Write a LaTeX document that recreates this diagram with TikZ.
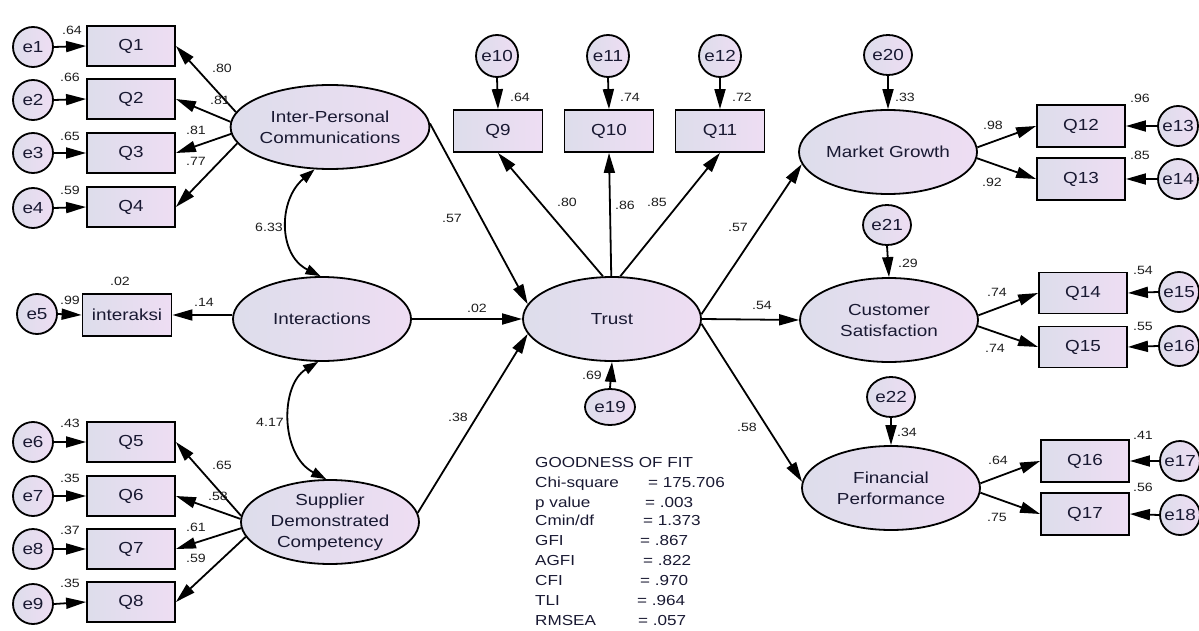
\documentclass[tikz,border=0pt]{standalone}
\usepackage{fontspec}
\setmainfont{Liberation Sans}
\newfontfamily\dfont[FakeStretch=1.18]{Liberation Sans}
\usetikzlibrary{arrows.meta,shapes.geometric}
\definecolor{fillL}{RGB}{221,221,235}
\definecolor{fillR}{RGB}{238,221,243}
\definecolor{txt}{RGB}{25,25,50}
\definecolor{lbl}{RGB}{30,30,30}
\tikzset{
  base/.style={draw=black, line width=1.8pt, left color=fillL, right color=fillR, text=txt, font=\dfont\fontsize{16}{21}\selectfont, inner sep=0pt},
  obs/.style={base, rectangle, minimum width=88pt, minimum height=40pt},
  lat/.style={base, ellipse, minimum width=178pt, minimum height=84pt, align=center},
  err/.style={base, circle, minimum size=40pt},
  errw/.style={base, ellipse, minimum width=48pt, minimum height=40pt},
  arr/.style={line width=1.8pt, -{Triangle[length=20pt,width=11pt]}},
  cov/.style={line width=1.8pt, {Triangle[length=15pt,width=10pt]}-{Triangle[length=15pt,width=10pt]}},
  lab/.style={font=\dfont\fontsize{12}{14}\selectfont, text=lbl, inner sep=0pt, text height=8.6pt, text depth=0pt},
  gof/.style={font=\dfont\fontsize{14.5}{17}\selectfont, text=txt, inner sep=0pt, text height=10.4pt, text depth=0pt, anchor=west},
}
\begin{document}
\begin{tikzpicture}[x=1pt,y=-1pt]
\useasboundingbox (0,0) rectangle (1199,631);
% ---------- left block ----------
\node[err] (e1) at (33,47) {e1};
\node[err] (e2) at (33,100) {e2};
\node[err] (e3) at (33,153) {e3};
\node[err] (e4) at (33,208) {e4};
\node[obs] (q1) at (131,46) {Q1};
\node[obs] (q2) at (131,99) {Q2};
\node[obs] (q3) at (131,153) {Q3};
\node[obs] (q4) at (131,207) {Q4};
\node[err] (e5) at (37,314) {e5};
\node[obs, minimum width=89pt, minimum height=42pt] (qi) at (127,315) {interaksi};
\node[err] (e6) at (33,442) {e6};
\node[err] (e7) at (33,496) {e7};
\node[err] (e8) at (33,549) {e8};
\node[err] (e9) at (33,604) {e9};
\node[obs] (q5) at (131,442) {Q5};
\node[obs] (q6) at (131,496) {Q6};
\node[obs] (q7) at (131,549) {Q7};
\node[obs] (q8) at (131,602) {Q8};
\node[lat] (ipc) at (330,127) {Inter-Personal\\Communications};
\node[lat] (inter) at (322,319) {Interactions};
\node[lat] (sdc) at (330,522) {Supplier\\Demonstrated\\Competency};
% ---------- middle ----------
\node[err, minimum size=42pt] (e10) at (497,56) {e10};
\node[err, minimum size=42pt] (e11) at (608,56) {e11};
\node[err, minimum size=42pt] (e12) at (720,56) {e12};
\node[obs, minimum width=89pt, minimum height=42pt] (q9) at (498,131) {Q9};
\node[obs, minimum width=89pt, minimum height=42pt] (q10) at (609,131) {Q10};
\node[obs, minimum width=89pt, minimum height=42pt] (q11) at (720,131) {Q11};
\node[lat] (trust) at (612,319) {Trust};
\node[errw, minimum width=50pt, minimum height=36pt] (e19) at (610,407) {e19};
% ---------- right ----------
\node[lat] (mg) at (888,152) {Market Growth};
\node[errw] (e20) at (888,55) {e20};
\node[obs, minimum height=42pt] (q12) at (1081,126) {Q12};
\node[obs, minimum height=42pt] (q13) at (1081,179) {Q13};
\node[err] (e13) at (1178,126) {e13};
\node[err] (e14) at (1178,179) {e14};
\node[lat] (cs) at (889,320) {Customer\\Satisfaction};
\node[errw] (e21) at (887,225) {e21};
\node[obs, minimum height=41pt] (q14) at (1083,293) {Q14};
\node[obs, minimum height=41pt] (q15) at (1083,347) {Q15};
\node[err] (e15) at (1179,292) {e15};
\node[err] (e16) at (1179,346) {e16};
\node[lat] (fp) at (891,488) {Financial\\Performance};
\node[errw] (e22) at (891,397) {e22};
\node[obs, minimum height=42pt] (q16) at (1085,461) {Q16};
\node[obs, minimum height=42pt] (q17) at (1085,514) {Q17};
\node[err] (e17) at (1180,461) {e17};
\node[err] (e18) at (1180,515) {e18};
% ---------- arrows: errors ----------
\draw[arr] (e1.east) -- (q1.west);
\draw[arr] (e2.east) -- (q2.west);
\draw[arr] (e3.east) -- (q3.west);
\draw[arr] (e4.east) -- (q4.west);
\draw[arr] (e5.east) -- (qi.west);
\draw[arr] (e6.east) -- (q5.west);
\draw[arr] (e7.east) -- (q6.west);
\draw[arr] (e8.east) -- (q7.west);
\draw[arr] (e9.east) -- (q8.west);
\draw[arr] (e10.south) -- (q9.north);
\draw[arr] (e11.south) -- (q10.north);
\draw[arr] (e12.south) -- (q11.north);
\draw[arr] (e19.north) -- (trust.south);
\draw[arr] (e20.south) -- (mg.north);
\draw[arr] (e21.south) -- (cs.north);
\draw[arr] (e22.south) -- (fp.north);
\draw[arr] (e13.west) -- (q12.east);
\draw[arr] (e14.west) -- (q13.east);
\draw[arr] (e15.west) -- (q14.east);
\draw[arr] (e16.west) -- (q15.east);
\draw[arr] (e17.west) -- (q16.east);
\draw[arr] (e18.west) -- (q17.east);
% ---------- loadings ----------
\draw[arr] (ipc.171) -- (q1.east);
\draw[arr] (ipc.177) -- (q2.east);
\draw[arr] (ipc.184) -- (q3.east);
\draw[arr] (ipc.190) -- (q4.east);
\draw[arr] (inter.west |- qi.east) -- (qi.east);
\draw[arr] (sdc.176) -- (q5.east);
\draw[arr] (sdc.178) -- (q6.east);
\draw[arr] (sdc.184) -- (q7.east);
\draw[arr] (sdc.190) -- (q8.east);
\draw[arr] (trust.102) -- (q9.south);
\draw[arr] (trust.91) -- (q10.south);
\draw[arr] (trust.79) -- (q11.south);
\draw[arr] (mg.3) -- (q12.west);
\draw[arr] (mg.356) -- (q13.west);
\draw[arr] (cs.3) -- (q14.west);
\draw[arr] (cs.356) -- (q15.west);
\draw[arr] (fp.3) -- (q16.west);
\draw[arr] (fp.357) -- (q17.west);
% ---------- structural ----------
\draw[arr] (ipc.2) -- (trust.170);
\draw[arr] (inter.east) -- (trust.west);
\draw[arr] (sdc.6) -- (trust.190);
\draw[arr] (trust.3) -- (mg.188);
\draw[arr] (trust.east) -- (cs.west);
\draw[arr] (trust.357) -- (fp.176);
% ---------- covariances ----------
\draw[cov] (ipc.250) .. controls (278,200) and (278,255) .. (inter.92);
\draw[cov] (inter.265) .. controls (280,385) and (280,455) .. (sdc.95);
% ---------- labels ----------
\foreach \t/\x/\y in {.64/72/30, .66/70/77, .65/70/136, .59/70/190,
  .80/222/68, .81/220/100, .81/196/130, .77/196/161,
  6.33/269/227, .02/120/281, .99/70/300, .14/204/302, 4.17/270/422,
  .43/70/423, .35/70/478, .37/70/530, .35/70/583,
  .65/222/465, .58/218/496, .61/196/527, .59/196/558,
  .57/452/218, .64/520/97, .74/630/97, .72/742/97,
  .80/567/202, .86/625/205, .85/657/202, .57/738/227,
  .02/477/308, .54/762/305, .69/592/375, .38/458/417, .58/747/427,
  .33/905/97, .98/993/125, .92/992/182, .96/1140/98, .85/1140/155,
  .29/908/263, .74/997/292, .74/995/348, .54/1143/270, .55/1143/326,
  .34/907/432, .64/998/460, .75/997/517, .41/1143/435, .56/1143/487}
  \node[lab] at (\x,\y) {\t};
% ---------- goodness of fit ----------
\node[gof] (g0) at (535,462) {GOODNESS OF FIT};
\node[gof] (g1) at (535,482) {Chi-square};
\node[gof] (g2) at (535,502) {p value};
\node[gof] (g3) at (535,520) {Cmin/df};
\node[gof] (g4) at (535,540) {GFI};
\node[gof] (g5) at (535,560) {AGFI};
\node[gof] (g6) at (535,580) {CFI};
\node[gof] (g7) at (535,600) {TLI};
\node[gof] (g8) at (535,620) {RMSEA};
\node[gof] (v1) at (648,482) {= 175.706};
\node[gof] (v2) at (645,502) {= .003};
\node[gof] (v3) at (643,520) {= 1.373};
\node[gof] (v4) at (640,540) {= .867};
\node[gof] (v5) at (643,560) {= .822};
\node[gof] (v6) at (640,580) {= .970};
\node[gof] (v7) at (637,600) {= .964};
\node[gof] (v8) at (638,620) {= .057};
\end{tikzpicture}
\end{document}
